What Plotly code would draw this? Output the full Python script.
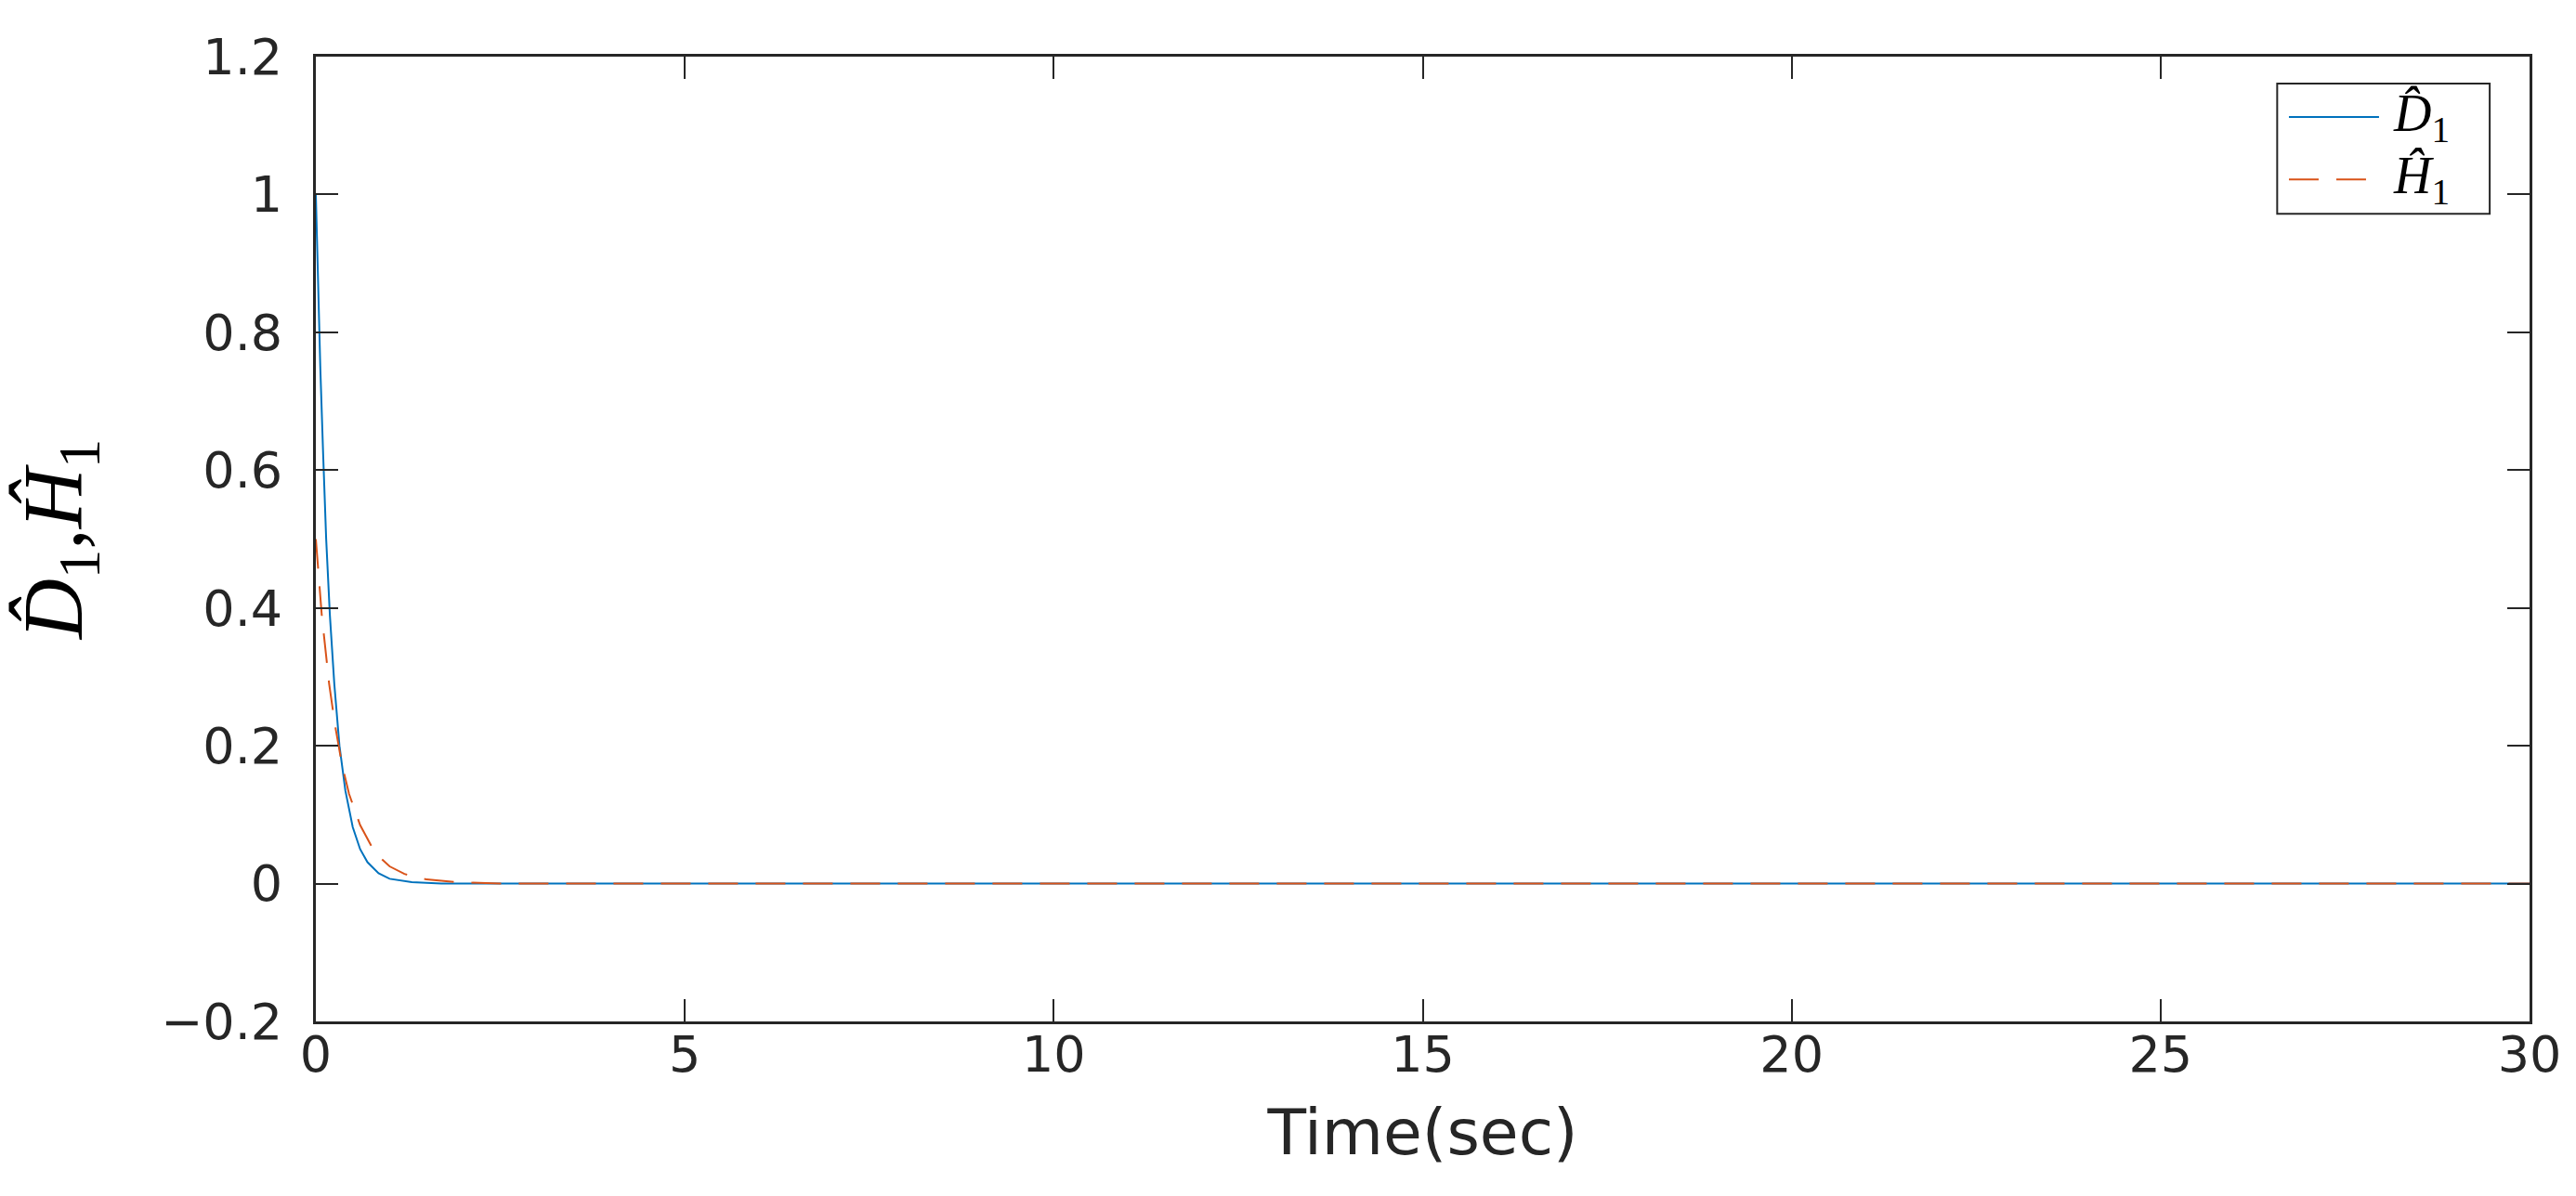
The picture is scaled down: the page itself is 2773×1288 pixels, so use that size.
import plotly.graph_objects as go

# values
t_d1 = [0, 0.03, 0.06, 0.1, 0.14, 0.19, 0.25, 0.32, 0.4, 0.5, 0.6, 0.7, 0.85, 1.0, 1.3, 1.7, 30]
d1 = [1.0, 0.86, 0.75, 0.62, 0.50, 0.39, 0.29, 0.20, 0.135, 0.082, 0.050, 0.031, 0.015, 0.007, 0.002, 0.0, 0.0]

t_h1 = [0, 0.04, 0.08, 0.12, 0.18, 0.26, 0.35, 0.45, 0.6, 0.8, 1.0, 1.2, 1.5, 1.9, 2.5, 30]
h1 = [0.5, 0.44, 0.39, 0.35, 0.29, 0.23, 0.175, 0.13, 0.085, 0.045, 0.025, 0.014, 0.006, 0.002, 0.0, 0.0]

x_ticks = [0, 5, 10, 15, 20, 25, 30]
y_ticks = [-0.2, 0, 0.2, 0.4, 0.6, 0.8, 1.0, 1.2]
y_labels = ['\u22120.2', '0', '0.2', '0.4', '0.6', '0.8', '1', '1.2']

series_names = ['<i>D\u0302</i><sub>1</sub>', '<i>H\u0302</i><sub>1</sub>']

AXIS = '#262626'
BLUE = '#0072BD'
ORANGE = '#D95319'
DASH = '32px,19px'
SERIF = 'Liberation Serif, DejaVu Serif, serif'
SANS = 'DejaVu Sans, Liberation Sans, sans-serif'

fig = go.Figure()

fig.add_trace(go.Scatter(
    x=t_d1, y=d1, mode='lines', name=series_names[0],
    line=dict(color=BLUE, width=2),
))
fig.add_trace(go.Scatter(
    x=t_h1, y=h1, mode='lines', name=series_names[1],
    line=dict(color=ORANGE, width=2, dash=DASH),
))

axis_common = dict(
    showline=True, linecolor=AXIS, linewidth=3,
    mirror='ticks', ticks='inside', ticklen=24, tickwidth=2, tickcolor=AXIS,
    showgrid=False, zeroline=False,
    tickfont=dict(family=SANS, size=54, color=AXIS),
)

# MATLAB-style legend box, drawn in paper coordinates (long line samples)
legend_box = dict(x0=0.886, x1=0.982, y0=0.837, y1=0.972)
legend_rows = [(0.9374, BLUE, 'solid'), (0.8728, ORANGE, DASH)]

shapes = [dict(type='rect', xref='paper', yref='paper', **legend_box,
               line=dict(color=AXIS, width=2), fillcolor='white', layer='above')]
annotations = []
for (ly, col, dash), label in zip(legend_rows, series_names):
    shapes.append(dict(type='line', xref='paper', yref='paper',
                       x0=0.8913, x1=0.9320, y0=ly, y1=ly,
                       line=dict(color=col, width=2, dash=dash), layer='above'))
    annotations.append(dict(xref='paper', yref='paper', x=0.9375, y=ly,
                            xanchor='left', yanchor='middle', showarrow=False,
                            text=label, font=dict(family=SERIF, size=56, color='black')))

fig.update_layout(
    width=2773, height=1288,
    margin=dict(l=332, r=58, t=53, b=196),
    plot_bgcolor='white', paper_bgcolor='white',
    showlegend=False,
    shapes=shapes,
    annotations=annotations,
    xaxis=dict(
        range=[0, 30], tickvals=x_ticks, ticklabelstandoff=-14,
        title=dict(text='Time(sec)', font=dict(family=SANS, size=68, color=AXIS), standoff=30),
        **axis_common,
    ),
    yaxis=dict(
        range=[-0.2, 1.2], tickvals=y_ticks, ticktext=y_labels, ticklabelstandoff=22,
        title=dict(text='<i>D\u0302</i><sub>1</sub>,<i>H\u0302</i><sub>1</sub>',
                   font=dict(family=SERIF, size=90, color='black'), standoff=68),
        **axis_common,
    ),
)

fig.write_html('out.html')
